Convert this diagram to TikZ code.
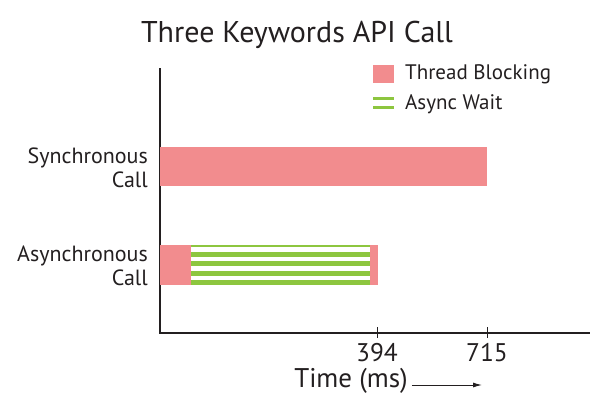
\documentclass[tikz,border=0pt]{standalone}
\usepackage{fontspec}
\setmainfont{PT Sans}
\usetikzlibrary{arrows,arrows.meta,positioning}
\definecolor{blockred}{RGB}{242,140,142}
\definecolor{waitgreen}{RGB}{141,198,63}
\definecolor{inkgray}{RGB}{35,31,32}

\begin{document}
\begin{tikzpicture}[x=1pt,y=-1pt,
	rowlbl/.style={font=\fontsize{22}{24}\selectfont, align=right, anchor=east, inner sep=0pt, text=inkgray},
	ticklbl/.style={font=\fontsize{25.5}{28}\selectfont, inner sep=0pt, text=inkgray},
	legendlbl/.style={font=\fontsize{21}{24}\selectfont, anchor=west, inner sep=0pt, text=inkgray}]
	\useasboundingbox (0,0) rectangle (593,402);
	\node[font=\fontsize{30}{34}\selectfont, text=inkgray] (title) at (297,35) {Three Keywords API Call};
	% axes
	\draw[line width=1.4pt, inkgray] (160,68) -- (160,333) -- (590,333);
	% bars
	\fill[blockred] (160,147) rectangle (487,186);
	\fill[blockred] (160,245) rectangle (191,285);
	\fill[blockred] (370,245) rectangle (377.5,285);
	\fill[waitgreen] (191,245) rectangle (370,246.5);
	\foreach \y in {251.5,261,270.5,280}
		\fill[waitgreen] (191,\y) rectangle (370,\y+5);
	\node[rowlbl] (sync) at (148,168) {Synchronous\\Call};
	\node[rowlbl] (async) at (148,266) {Asynchronous\\Call};
	% ticks
	\draw[thick, inkgray] (377,327) -- (377,338);
	\draw[thick, inkgray] (487,327) -- (487,338);
	\node[ticklbl] (t394) at (377,353) {394};
	\node[ticklbl] (t715) at (487,353) {715};
	\node[font=\fontsize{27}{30}\selectfont, inner sep=0pt, text=inkgray] (time) at (351,381) {Time (ms)};
	\coordinate (tend) at (482,385);
	\draw[line width=1pt, inkgray, -{Latex[length=9pt,width=5pt]}] (time.east |- tend) ++(4,0) -- (tend);
	% legend
	\fill[blockred] (373,65) rectangle (394,83);
	\fill[waitgreen] (373,96.5) rectangle (394,99.5);
	\fill[waitgreen] (373,105.5) rectangle (394,108.5);
	\node[legendlbl] (lgblock) at (405,74) {Thread Blocking};
	\node[legendlbl] (lgwait) at (405,104) {Async Wait};
\end{tikzpicture}
\end{document}
